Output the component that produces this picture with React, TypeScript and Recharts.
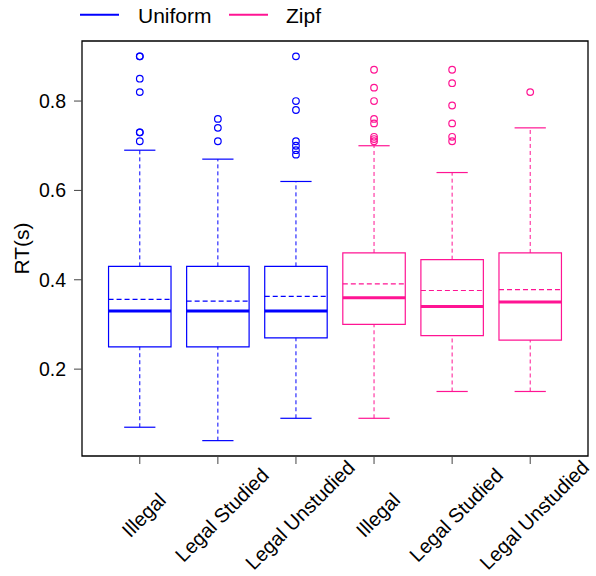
import { ComposedChart, Scatter, XAxis, YAxis, ReferenceArea, ReferenceLine } from "recharts";

const categories = ["Illegal", "Legal Studied", "Legal Unstudied", "Illegal", "Legal Studied", "Legal Unstudied"];
const groups = ["Uniform", "Uniform", "Uniform", "Zipf", "Zipf", "Zipf"];
const lowerWhisker = [0.07, 0.04, 0.09, 0.09, 0.15, 0.15];
const q1 = [0.25, 0.25, 0.27, 0.3, 0.275, 0.265];
const median = [0.33, 0.33, 0.33, 0.36, 0.34, 0.35];
const mean = [0.356, 0.352, 0.363, 0.391, 0.376, 0.378];
const q3 = [0.43, 0.43, 0.43, 0.46, 0.445, 0.46];
const upperWhisker = [0.69, 0.67, 0.62, 0.7, 0.64, 0.74];
const outliers = [
  [0.9, 0.9, 0.85, 0.82, 0.73, 0.73, 0.71],
  [0.76, 0.74, 0.71],
  [0.9, 0.8, 0.78, 0.71, 0.7, 0.69, 0.68],
  [0.87, 0.83, 0.8, 0.76, 0.75, 0.72, 0.715, 0.71],
  [0.87, 0.84, 0.79, 0.75, 0.72, 0.71],
  [0.82],
];
const yTicks = [0.2, 0.4, 0.6, 0.8];

const colors: Record<string, string> = { Uniform: "#0000ff", Zipf: "#ff1493" };
const font = "'Liberation Sans', Arial, sans-serif";
const xDomain = [0.26, 6.74];
const yDomain = [0.0056, 0.9344];

const positions = categories.map((_, i) => i + 1);

function outlierPoints(group: string) {
  const pts: { x: number; y: number }[] = [];
  outliers.forEach((vals, i) => {
    if (groups[i] !== group) return;
    vals.forEach((v) => pts.push({ x: i + 1, y: v }));
  });
  return pts;
}

function Ring(props: any) {
  const { cx, cy, fill } = props;
  return <circle cx={cx} cy={cy} r={3.3} fill="none" stroke={fill} strokeWidth={1.2} />;
}

function XTick({ x, y, payload }: any) {
  const cx = x + 4;
  const cy = y + 49;
  return (
    <text
      x={cx}
      y={cy}
      transform={`rotate(-45, ${cx}, ${cy})`}
      textAnchor="middle"
      dominantBaseline="central"
      fontSize={20}
      fontFamily={font}
      fill="#000"
    >
      {categories[payload.value - 1]}
    </text>
  );
}

function YLabel({ viewBox }: any) {
  const cx = viewBox.x + 21;
  const cy = viewBox.y + viewBox.height / 2;
  return (
    <text x={cx} y={cy} transform={`rotate(-90, ${cx}, ${cy})`} textAnchor="middle" dominantBaseline="central" fontSize={21} fontFamily={font} fill="#000">
      RT(s)
    </text>
  );
}

export default function App() {
  return (
    <div style={{ position: "absolute", left: 0, top: 0, width: 596, height: 576, background: "#fff" }}>
      <svg width={596} height={32} style={{ position: "absolute", left: 0, top: 0 }}>
        <line x1={80} x2={119} y1={14.7} y2={14.7} stroke={colors.Uniform} strokeWidth={2} />
        <text x={138} y={15.5} dominantBaseline="central" fontSize={21} fontFamily={font}>Uniform</text>
        <line x1={229} x2={268} y1={14.7} y2={14.7} stroke={colors.Zipf} strokeWidth={2} />
        <text x={286} y={15.5} dominantBaseline="central" fontSize={21} fontFamily={font}>Zipf</text>
      </svg>
      <ComposedChart width={596} height={576} margin={{ top: 41, right: 8, bottom: 0, left: 0 }}>
        <XAxis
          type="number"
          dataKey="x"
          domain={xDomain}
          ticks={positions}
          allowDataOverflow
          axisLine={false}
          tickLine={{ stroke: "#444" }}
          tickSize={8}
          height={120}
          tick={<XTick />}
          interval={0}
        />
        <YAxis
          type="number"
          dataKey="y"
          domain={yDomain}
          ticks={yTicks}
          allowDataOverflow
          axisLine={false}
          tickLine={{ stroke: "#444" }}
          tickSize={8}
          tickMargin={8}
          width={82}
          tickFormatter={(v: number) => v.toFixed(1)}
          tick={{ fontSize: 19.5, fill: "#000", fontFamily: font }}
          label={<YLabel />}
        />
        <ReferenceArea x1={xDomain[0]} x2={xDomain[1]} y1={yDomain[0]} y2={yDomain[1]} fill="none" stroke="#000" strokeWidth={1.3} ifOverflow="visible" />
        {positions.map((p, i) => {
          const c = colors[groups[i]];
          return [
            <ReferenceLine key={`lw${i}`} segment={[{ x: p, y: lowerWhisker[i] }, { x: p, y: q1[i] }]} stroke={c} strokeDasharray="4 3" />,
            <ReferenceLine key={`uw${i}`} segment={[{ x: p, y: q3[i] }, { x: p, y: upperWhisker[i] }]} stroke={c} strokeDasharray="4 3" />,
            <ReferenceLine key={`lc${i}`} segment={[{ x: p - 0.2, y: lowerWhisker[i] }, { x: p + 0.2, y: lowerWhisker[i] }]} stroke={c} strokeWidth={1.2} />,
            <ReferenceLine key={`uc${i}`} segment={[{ x: p - 0.2, y: upperWhisker[i] }, { x: p + 0.2, y: upperWhisker[i] }]} stroke={c} strokeWidth={1.2} />,
            <ReferenceArea key={`bx${i}`} x1={p - 0.4} x2={p + 0.4} y1={q1[i]} y2={q3[i]} fill="none" stroke={c} strokeWidth={1.2} />,
            <ReferenceLine key={`md${i}`} segment={[{ x: p - 0.4, y: median[i] }, { x: p + 0.4, y: median[i] }]} stroke={c} strokeWidth={3} />,
            <ReferenceLine key={`mn${i}`} segment={[{ x: p - 0.4, y: mean[i] }, { x: p + 0.4, y: mean[i] }]} stroke={c} strokeWidth={1.2} strokeDasharray="5 3" />,
          ];
        })}
        <Scatter data={outlierPoints("Uniform")} fill={colors.Uniform} shape={<Ring />} isAnimationActive={false} />
        <Scatter data={outlierPoints("Zipf")} fill={colors.Zipf} shape={<Ring />} isAnimationActive={false} />
      </ComposedChart>
    </div>
  );
}
